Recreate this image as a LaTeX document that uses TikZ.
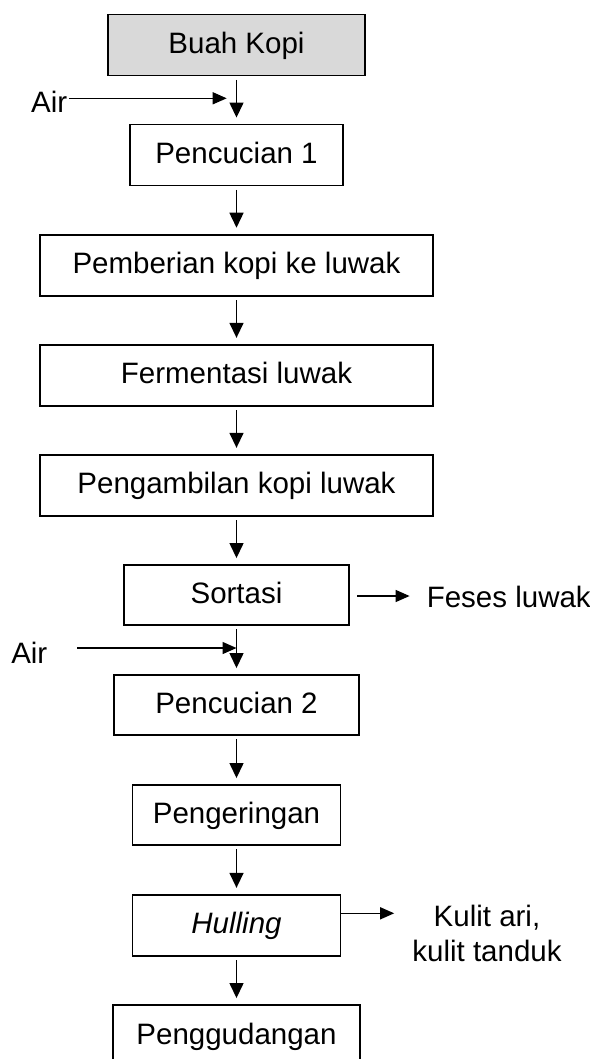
\documentclass[tikz,border=0pt]{standalone}
\usepackage{fontspec}
\setmainfont{Liberation Sans}
\usetikzlibrary{arrows.meta}
\definecolor{boxgray}{HTML}{D9D9D9}
\begin{document}
\begin{tikzpicture}[x=1pt,y=-1pt,
  every node/.style={font=\fontsize{29.5}{35}\selectfont, inner sep=0pt},
  procbox/.style={draw, line width=1.9pt, minimum height=61pt, text height=21pt, text depth=4pt, anchor=center},
  varr/.style={line width=1.4pt, -{Triangle[length=15pt,width=14pt]}, shorten <=3.5pt, shorten >=6pt},
  harr/.style={line width=1.4pt, -{Triangle[length=14pt,width=12pt]}},
]
\clip (0,0) rectangle (589,1059);
\fill[white] (0,0) rectangle (589,1059);
% process boxes
\node[procbox, fill=boxgray, minimum width=257pt] (buah) at (236.5,45) {Buah Kopi};
\node[procbox, minimum width=212.7pt] (pc1) at (236.5,155) {Pencucian 1};
\node[procbox, minimum width=392.7pt] (pemb) at (236.5,265.2) {Pemberian kopi ke luwak};
\node[procbox, minimum width=392.7pt] (ferm) at (236.5,375.3) {Fermentasi luwak};
\node[procbox, minimum width=392.7pt] (peng) at (236.5,485.3) {Pengambilan kopi luwak};
\node[procbox, minimum width=224.3pt, minimum height=60pt] (sort) at (236.5,595) {Sortasi};
\node[procbox, minimum width=244.3pt, minimum height=60pt] (pc2) at (236.5,705) {Pencucian 2};
\node[procbox, minimum width=208pt, minimum height=60pt] (kering) at (236.5,815) {Pengeringan};
\node[procbox, minimum width=208pt] (hull) at (236.5,925.3) {\itshape Hulling};
\node[procbox, minimum width=247.4pt] (gudang) at (236.5,1035.5) {Penggudangan};
% side labels
\node[anchor=base] (air1) at (49.2,113) {Air};
\node[anchor=base] (air2) at (29.3,663) {Air};
\node[anchor=base west] (feses) at (426.6,607.3) {Feses luwak};
\node[align=center] (kulit) at (487,933.8) {Kulit ari,\\kulit tanduk};
\coordinate (j1) at (226.7,98.3);
\coordinate (a2s) at (77.4,648);
% main flow
\draw[varr] (buah.south) -- (buah.south |- pc1.north);
\draw[varr] (pc1.south) -- (pc1.south |- pemb.north);
\draw[varr] (pemb.south) -- (pemb.south |- ferm.north);
\draw[varr] (ferm.south) -- (ferm.south |- peng.north);
\draw[varr] (peng.south) -- (peng.south |- sort.north);
\draw[varr] (sort.south) -- (sort.south |- pc2.north);
\draw[varr] (pc2.south) -- (pc2.south |- kering.north);
\draw[varr] (kering.south) -- (kering.south |- hull.north);
\draw[varr] (hull.south) -- (hull.south |- gudang.north);
% inputs and outputs
\draw[harr] ([xshift=1.4pt]air1.east |- j1) -- (j1);
\draw[harr] (a2s) -- (a2s -| sort.south);
\draw[harr, shorten >=17pt] ([xshift=7.7pt,yshift=-1pt]sort.east) -- ([yshift=-1pt]sort.east -| feses.west);
\draw[harr, shorten >=18pt] ([yshift=12pt]hull.east) -- ([yshift=12pt]hull.east -| kulit.west);
\end{tikzpicture}
\end{document}
